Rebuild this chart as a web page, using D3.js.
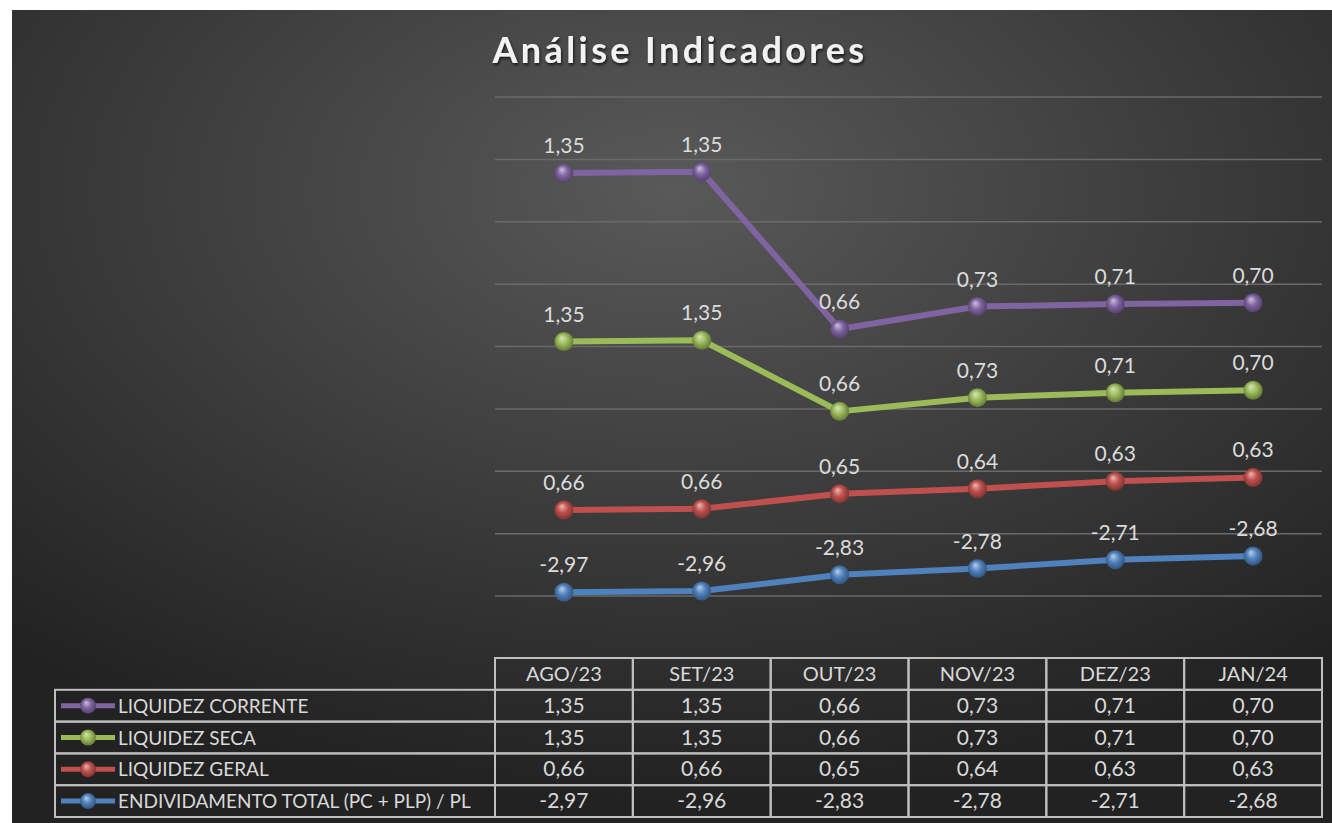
<!DOCTYPE html>
<html>
<head>
  <meta charset="utf-8">
  <title>Análise Indicadores</title>
  <style>
    body { margin: 0; background: #fff; }
    text { font-family: Lato, "Open Sans", sans-serif; }
    .lbl { fill: #dcdcdc; font-size: 21px; text-anchor: middle; }
    .cell { fill: #d9d9d9; font-size: 21px; text-anchor: middle; }
    .grid line { stroke: #6a6a6a; stroke-width: 1.5; }
  </style>
</head>
<body>
<svg id="chart"></svg>
<script src="https://cdn.jsdelivr.net/npm/d3@7"></script>
<script>
var months = ['AGO/23', 'SET/23', 'OUT/23', 'NOV/23', 'DEZ/23', 'JAN/24'];
var seriesNames = ['LIQUIDEZ CORRENTE', 'LIQUIDEZ SECA', 'LIQUIDEZ GERAL', 'ENDIVIDAMENTO TOTAL (PC + PLP) / PL'];
var liqCorrente = [1.35, 1.35, 0.66, 0.73, 0.71, 0.70];
var liqSeca = [1.35, 1.35, 0.66, 0.73, 0.71, 0.70];
var liqGeral = [0.66, 0.66, 0.65, 0.64, 0.63, 0.63];
var endividamento = [-2.97, -2.96, -2.83, -2.78, -2.71, -2.68];
var colors = ['#8064a2', '#9bbb59', '#c0504d', '#4f81bd'];

var W = 1332, H = 823;
var svg = d3.select('#chart').attr('width', W).attr('height', H);

var defs = svg.append('defs');
var bg = defs.append('radialGradient').attr('id', 'bg')
  .attr('cx', '0.5').attr('cy', '0.22').attr('r', '0.75');
bg.append('stop').attr('offset', '0').attr('stop-color', '#595959');
bg.append('stop').attr('offset', '1').attr('stop-color', '#222');

colors.forEach((c, i) => {
  var g = defs.append('radialGradient').attr('id', 'ball' + i)
    .attr('cx', '0.5').attr('cy', '0.5').attr('r', '0.6')
    .attr('fx', '0.38').attr('fy', '0.3');
  g.append('stop').attr('offset', '0').attr('stop-color', d3.interpolateRgb(c, '#fff')(0.6));
  g.append('stop').attr('offset', '0.45').attr('stop-color', c);
  g.append('stop').attr('offset', '1').attr('stop-color', d3.interpolateRgb(c, '#000')(0.45));
});

var shadow = defs.append('filter').attr('id', 'tshadow');
shadow.append('feDropShadow').attr('dx', 1).attr('dy', 2).attr('stdDeviation', 1.5)
  .attr('flood-color', '#000').attr('flood-opacity', 0.7);

svg.append('rect').attr('x', 12).attr('y', 10).attr('width', W - 12).attr('height', H - 10)
  .attr('fill', 'url(#bg)');

svg.append('text')
  .attr('x', 680).attr('y', 63)
  .attr('text-anchor', 'middle')
  .style('font-size', '36px').style('font-weight', 'bold').style('letter-spacing', '3.4px')
  .attr('fill', '#f2f2f2').attr('filter', 'url(#tshadow)')
  .text('Análise Indicadores');

// stacked line chart (series stacked bottom-up: endividamento, geral, seca, corrente)
var rows = months.map((m, i) => ({
  m: m, s0: liqCorrente[i], s1: liqSeca[i], s2: liqGeral[i], s3: endividamento[i]
}));
var stack = d3.stack().keys(['s3', 's2', 's1', 's0']);
var stacked = stack(rows);

var x = d3.scaleBand().domain(months).range([495, 1322]);
var y = d3.scaleLinear().domain([-3, 1]).range([596, 97]);

var grid = svg.append('g').attr('class', 'grid');
grid.selectAll('line')
  .data(d3.range(-3, 1.01, 0.5))
  .enter().append('line')
  .attr('x1', 495).attr('x2', 1322)
  .attr('y1', d => y(d)).attr('y2', d => y(d));

var fmt = v => d3.format('.2f')(v).replace('.', ',').replace('−', '-');
var cx = d => x(d.data.m) + x.bandwidth() / 2;
var line = d3.line().x(cx).y(d => y(d[1]));

stacked.forEach(s => {
  var idx = +s.key.slice(1);
  var g = svg.append('g');
  g.append('path').datum(s)
    .attr('d', line)
    .attr('fill', 'none')
    .attr('stroke', colors[idx])
    .attr('stroke-width', 6)
    .attr('stroke-linejoin', 'round');
  g.selectAll('circle').data(s).enter().append('circle')
    .attr('cx', cx).attr('cy', d => y(d[1]))
    .attr('r', 9.5)
    .attr('fill', 'url(#ball' + idx + ')');
  g.selectAll('text').data(s).enter().append('text')
    .attr('class', 'lbl')
    .attr('x', cx).attr('y', d => y(d[1]) - 20)
    .text(d => fmt(d.data[s.key]));
});

// data table
var tableVals = [liqCorrente, liqSeca, liqGeral, endividamento];
var tableTop = 658, rh = 31.8, legLeft = 55;
var tb = svg.append('g').attr('fill', 'none').attr('stroke', '#bfbfbf').attr('stroke-width', 2);

// header row
months.forEach(m => {
  tb.append('rect').attr('x', x(m)).attr('y', tableTop).attr('width', x.bandwidth()).attr('height', rh);
  svg.append('text').attr('class', 'cell').style('font-size', '20px')
    .attr('x', x(m) + x.bandwidth() / 2).attr('y', tableTop + rh / 2 + 7).text(m);
});

seriesNames.forEach((name, r) => {
  var ry = tableTop + rh * (r + 1);
  tb.append('rect').attr('x', legLeft).attr('y', ry).attr('width', 495 - legLeft).attr('height', rh);
  var my = ry + rh / 2;
  svg.append('line').attr('x1', 61).attr('x2', 115).attr('y1', my).attr('y2', my)
    .attr('stroke', colors[r]).attr('stroke-width', 5);
  svg.append('circle').attr('cx', 88).attr('cy', my).attr('r', 8)
    .attr('fill', 'url(#ball' + r + ')');
  svg.append('text').attr('x', 118).attr('y', my + 7)
    .attr('fill', '#d9d9d9').style('font-size', '19px').text(name);
  months.forEach((m, i) => {
    tb.append('rect').attr('x', x(m)).attr('y', ry).attr('width', x.bandwidth()).attr('height', rh);
    svg.append('text').attr('class', 'cell')
      .attr('x', x(m) + x.bandwidth() / 2).attr('y', my + 7).text(fmt(tableVals[r][i]));
  });
});
</script>
</body>
</html>
